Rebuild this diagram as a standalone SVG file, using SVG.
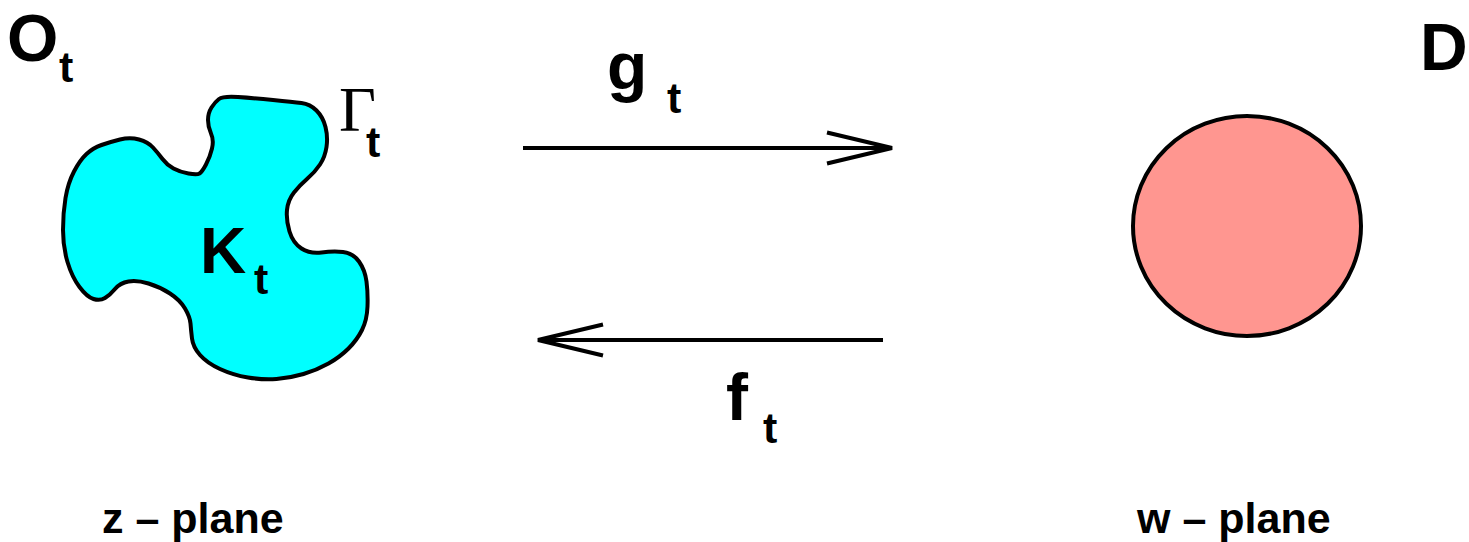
<svg xmlns="http://www.w3.org/2000/svg" width="1469" height="542" viewBox="0 0 1469 542">
<style>
.lbl{font-family:"Liberation Sans",Arial,sans-serif;font-weight:bold;fill:#000}
.big{font-size:66px}
.sub{font-size:43px}
.cap{font-size:43px}
.gam{font-family:"Liberation Serif","Times New Roman",serif;font-size:64px;fill:#000}
.edge{stroke:#000;stroke-width:4;fill:none}
</style>
<defs>
<marker id="vhead" markerUnits="userSpaceOnUse" viewBox="-70 -20 74 40" markerWidth="74" markerHeight="40" refX="0" refY="0" orient="auto" overflow="visible">
<path d="M -65,-15.5 L 0,0 L -65,15.5" fill="none" stroke="#000" stroke-width="4"/>
</marker>
</defs>
<g id="node-Ot">
<text class="lbl big" x="7" y="61">O</text>
<text class="lbl sub" x="59" y="82">t</text>
</g>
<g id="node-K">
<path d="M 219,99 Q 223,96 238,97 Q 253,98 273,100 Q 293,102 301.5,103 Q 310,104 316.5,110.5 Q 323,117 325.5,127 Q 328,137 326.5,147 Q 325,157 320,164.5 Q 315,172 307.5,178.5 Q 300,185 294,192.5 Q 288,200 287,210 Q 286,220 289.5,231.5 Q 293,243 301.5,248.5 Q 310,254 321.5,252.5 Q 333,251 343,252 Q 353,253 359,261.5 Q 365,270 366.5,281.5 Q 368,293 367.5,306.5 Q 367,320 362,330 Q 357,340 348.5,348.5 Q 340,357 328.5,363.5 Q 317,370 303.5,374 Q 290,378 276.5,379 Q 263,380 248,377.5 Q 233,375 220,369 Q 207,363 200,355 Q 193,347 192,338.5 Q 191,330 190.5,323.5 Q 190,317 185,308.5 Q 180,300 170,293.5 Q 160,287 148.5,283.5 Q 137,280 128.5,281.5 Q 120,283 115,289 Q 110,295 105,298 Q 100,301 93.5,299 Q 87,297 79.5,287 Q 72,277 67.5,262 Q 63,247 63,230 Q 63,213 65.5,198 Q 68,183 74,171.5 Q 80,160 86.5,154 Q 93,148 101.5,145 Q 110,142 120,139.5 Q 130,137 139,139.5 Q 148,142 153,147.5 Q 158,153 162.5,159 Q 167,165 173.5,168.5 Q 180,172 188.5,173.5 Q 197,175 199.5,173.5 Q 202,172 206,164.5 Q 210,157 212,148.5 Q 214,140 211,133.5 Q 208,127 208,120 Q 208,113 211.5,107.5 Q 215,102 219,99 Z" fill="#00ffff" stroke="#000" stroke-width="4" stroke-linejoin="round"/>
<text class="lbl" font-size="64" x="200" y="273">K</text>
<text class="lbl sub" x="254" y="294">t</text>
</g>
<g id="node-Gamma">
<text class="gam" x="339" y="131">Γ</text>
<text class="lbl sub" x="366" y="157">t</text>
</g>
<g id="node-D">
<text class="lbl big" x="1420" y="70">D</text>
<ellipse cx="1247" cy="226" rx="114" ry="110" fill="#ff9690" stroke="#000" stroke-width="4"/>
</g>
<g id="node-zplane">
<text class="lbl cap" x="102" y="533">z – plane</text>
</g>
<g id="node-wplane">
<text class="lbl cap" x="1137" y="533">w – plane</text>
</g>
<g id="connectors">
<line class="edge" x1="523" y1="148" x2="892" y2="148" marker-end="url(#vhead)"/>
<line class="edge" x1="883" y1="340" x2="538" y2="340" marker-end="url(#vhead)"/>
<g id="label-g">
<text class="lbl big" x="607" y="89">g</text>
<text class="lbl sub" x="667" y="113">t</text>
</g>
<g id="label-f">
<text class="lbl big" x="726" y="420">f</text>
<text class="lbl sub" x="763" y="443">t</text>
</g>
</g>
</svg>
